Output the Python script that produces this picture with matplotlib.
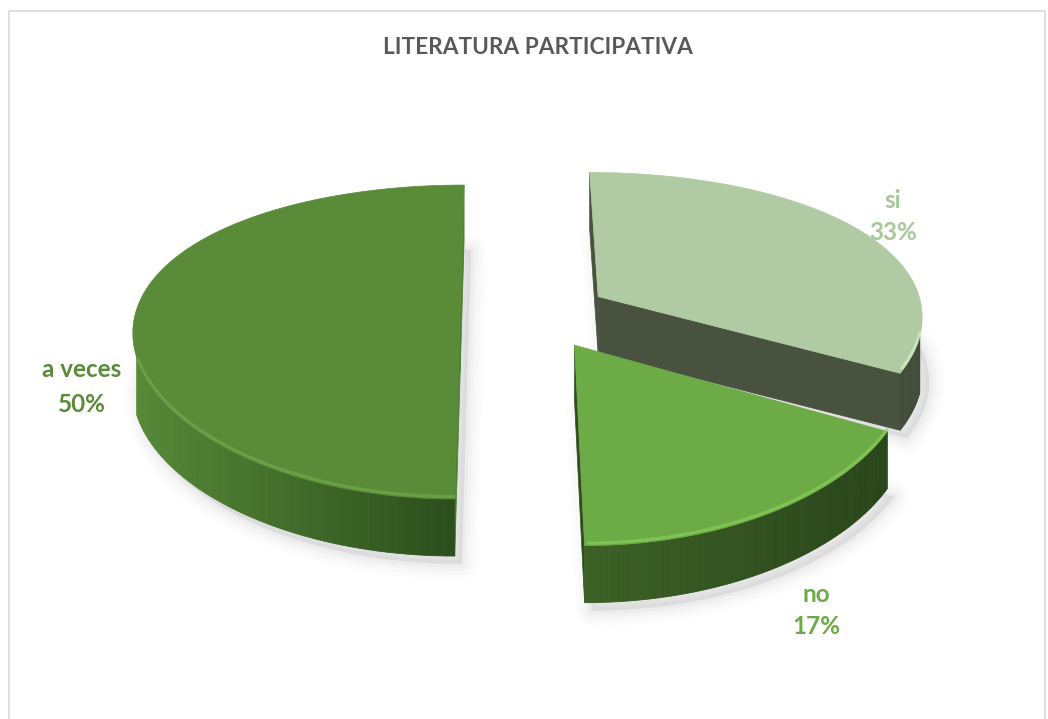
import numpy as np
import matplotlib
matplotlib.use("Agg")
import matplotlib.pyplot as plt
from matplotlib.patches import Polygon, Rectangle

# ---- data ----
categories = ["si", "no", "a veces"]
values = [33, 17, 50]
percent_labels = ["33%", "17%", "50%"]
title = "LITERATURA PARTICIPATIVA"

# ---- styles ----
top_colors = ["#b0cba3", "#6dab46", "#5a8b39"]
side_light = [(0.30, 0.34, 0.27), (0.24, 0.38, 0.15), (0.34, 0.54, 0.22)]
side_dark = [(0.26, 0.30, 0.23), (0.16, 0.27, 0.10), (0.17, 0.30, 0.11)]
radial_colors = ["#48523f", "#2f4d1e", "#4e7f32"]
label_colors = ["#a8c899", "#6dab46", "#5a8b39"]
label_x = [893, 816, 82]
label_base = [(208, 240), (602, 634), (377, 412)]

W, H = 1048, 719
fig = plt.figure(figsize=(W / 100, H / 100), dpi=100)
ax = fig.add_axes([0, 0, 1, 1])
ax.set_xlim(0, W)
ax.set_ylim(H, 0)
ax.axis("off")

ax.add_patch(Rectangle((9, 11), 1036, 720, fill=False, edgecolor="#d9d9d9", lw=1.2))

# ---- 3D view parameters ----
CX, CY = 535, 314
S = 325          # horizontal radius scale (px)
A = 152.0        # vertical radius scale (px)
R = 5.6          # perspective distance
KH = 0.6         # horizontal perspective strength
XV = -0.1        # horizontal vanishing line
T = 57           # thickness in px
EXPLODE = 0.23
PHI = np.radians(27.7)
DIST = R * np.cos(PHI)
CAM = np.array([0.0, -DIST * np.cos(PHI), DIST * np.sin(PHI)])
THICK = 0.16


def project(x, y, z):
    x = np.asarray(x, float)
    y = np.asarray(y, float)
    f = 1.0 / (1.0 + y / R)
    fh = 1.0 + KH * (f - 1.0)
    sx = CX + S * ((x - XV) * fh + XV)
    sy = CY - A * y * f - T * (z / THICK)
    return sx, sy


def visible(normal, point):
    return np.dot(normal, CAM - np.asarray(point)) > 0


total = float(sum(values))
starts = np.cumsum([0] + values[:-1]) / total * 360.0
ends = np.cumsum(values) / total * 360.0


def slice_geom(i):
    a0, a1 = starts[i], ends[i]
    am = np.radians((a0 + a1) / 2)
    ox, oy = EXPLODE * np.sin(am), EXPLODE * np.cos(am)
    t = np.radians(np.linspace(a0, a1, 120))
    return a0, a1, ox, oy, t


def draw_shadow(i):
    a0, a1, ox, oy, t = slice_geom(i)
    xs = np.concatenate([[ox], ox + np.sin(t)])
    ys = np.concatenate([[oy], oy + np.cos(t)])
    px, py = project(xs, ys, -THICK)
    pts = np.column_stack([px + 7, py + 8])
    for lw, a in [(22, 0.025), (16, 0.03), (10, 0.04), (5, 0.05)]:
        ax.add_patch(Polygon(pts, closed=True, facecolor=(0.5, 0.5, 0.5, a),
                             edgecolor=(0.5, 0.5, 0.5, a), lw=lw, joinstyle="round"))


def draw_slice(i):
    a0, a1, ox, oy, t = slice_geom(i)
    # radial walls
    for ang, sign in [(a0, -1), (a1, 1)]:
        r = np.radians(ang)
        normal = np.array([sign * np.cos(r), -sign * np.sin(r), 0.0])
        rim = (ox + np.sin(r), oy + np.cos(r))
        mid = ((ox + rim[0]) / 2, (oy + rim[1]) / 2, -THICK / 2)
        if visible(normal, mid):
            corners = [(ox, oy, 0), (rim[0], rim[1], 0), (rim[0], rim[1], -THICK), (ox, oy, -THICK)]
            pts = [project(*c) for c in corners]
            ax.add_patch(Polygon(pts, closed=True, facecolor=radial_colors[i],
                                 edgecolor=radial_colors[i], lw=0.5))
    # outer wall
    xs_all = project(ox + np.sin(t), oy + np.cos(t), 0)[0]
    xmin, xmax = xs_all.min(), xs_all.max()
    lo, hi = np.array(side_light[i]), np.array(side_dark[i])
    vis_top = []
    for k in range(len(t) - 1):
        tm = (t[k] + t[k + 1]) / 2
        normal = np.array([np.sin(tm), np.cos(tm), 0.0])
        p = (ox + np.sin(tm), oy + np.cos(tm), -THICK / 2)
        if not visible(normal, p):
            continue
        c = [(ox + np.sin(t[k]), oy + np.cos(t[k]), 0),
             (ox + np.sin(t[k + 1]), oy + np.cos(t[k + 1]), 0),
             (ox + np.sin(t[k + 1]), oy + np.cos(t[k + 1]), -THICK),
             (ox + np.sin(t[k]), oy + np.cos(t[k]), -THICK)]
        pts = [project(*q) for q in c]
        frac = (pts[0][0] - xmin) / max(xmax - xmin, 1)
        col = lo + (hi - lo) * np.clip(frac, 0, 1)
        ax.add_patch(Polygon(pts, closed=True, facecolor=col, edgecolor=col, lw=0.6))
        vis_top.append(k)
    # top face
    xs = np.concatenate([[ox], ox + np.sin(t)])
    ys = np.concatenate([[oy], oy + np.cos(t)])
    px, py = project(xs, ys, 0)
    ax.add_patch(Polygon(np.column_stack([px, py]), closed=True,
                         facecolor=top_colors[i], edgecolor=top_colors[i], lw=0.5))
    # bevel highlight along visible front rim
    if vis_top:
        idx = np.array(vis_top)
        rx, ry = project(ox + np.sin(t[idx]), oy + np.cos(t[idx]), 0)
        hl = tuple(min(1, v * 1.18 + 0.05) for v in matplotlib.colors.to_rgb(top_colors[i]))
        ax.plot(rx, ry - 2.5, color=hl, lw=2.2, alpha=0.55, solid_capstyle="round")


order = [0, 2, 1]
for i in order:
    draw_shadow(i)
for i in order:
    draw_slice(i)

for i in range(len(categories)):
    b1, b2 = label_base[i]
    ax.text(label_x[i], b1, categories[i], ha="center", va="baseline",
            color=label_colors[i], fontsize=17.5, fontweight="bold", family="Lato")
    ax.text(label_x[i], b2, percent_labels[i], ha="center", va="baseline",
            color=label_colors[i], fontsize=17.5, fontweight="bold", family="Lato")

ax.text(538, 47, title, ha="center", va="center", color="#595959",
        fontsize=16.3, fontweight="bold", family="Lato")

fig.savefig("out.png", dpi=100)
